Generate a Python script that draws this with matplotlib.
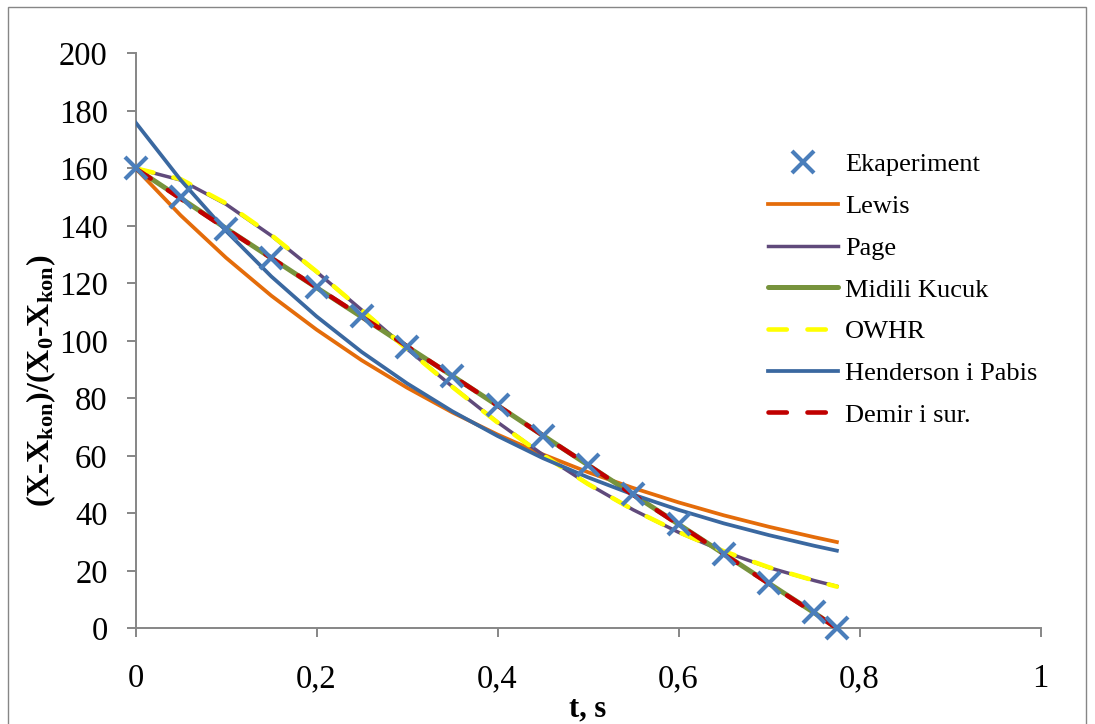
import matplotlib
matplotlib.use("Agg")
import matplotlib.pyplot as plt
from matplotlib.patches import Rectangle

plt.rcParams['font.family'] = ['Liberation Serif', 'DejaVu Serif']
plt.rcParams['mathtext.fontset'] = 'custom'
plt.rcParams['mathtext.rm'] = 'Liberation Serif'
plt.rcParams['mathtext.bf'] = 'Liberation Serif:bold'
plt.rcParams['mathtext.it'] = 'Liberation Serif:italic'

# ---- data ----
t = [0, 0.05, 0.10, 0.15, 0.20, 0.25, 0.30, 0.35, 0.40, 0.45, 0.50,
     0.55, 0.60, 0.65, 0.70, 0.75, 0.775]
eksperiment = [160, 149.9, 138.8, 128.7, 118.6, 108.5, 97.7, 87.7, 77.6,
               66.8, 56.7, 46.6, 36.2, 25.7, 15.7, 5.6, 0]
lewis = [160, 143.6, 128.9, 115.7, 103.9, 93.2, 83.7, 75.1, 67.4, 60.5,
         54.3, 48.8, 43.8, 39.3, 35.3, 31.7, 30.0]
page = [160, 155.9, 147.5, 136.6, 124.0, 110.7, 97.2, 84.1, 71.7, 60.4,
        50.2, 41.2, 33.4, 26.7, 21.1, 16.6, 14.6]
midili = [160, 149.6, 139.1, 128.8, 118.5, 108.3, 98.0, 87.8, 77.5, 67.1,
          56.8, 46.5, 36.2, 25.9, 15.6, 5.4, 0]
owhr = [160, 156.2, 147.8, 136.8, 124.1, 110.7, 97.1, 84.0, 71.6, 60.3,
        50.2, 41.2, 33.5, 26.8, 21.2, 16.6, 14.5]
henderson = [176, 155.9, 138.2, 122.4, 108.5, 96.1, 85.2, 75.5, 66.9, 59.2,
             52.5, 46.5, 41.2, 36.5, 32.4, 28.7, 27.0]
demir = [160, 149.4, 139.0, 128.8, 118.6, 108.4, 98.1, 87.8, 77.5, 67.1,
         56.8, 46.4, 36.1, 25.8, 15.5, 5.3, 0]

labels = ['Ekaperiment', 'Lewis', 'Page', 'Midili Kucuk', 'OWHR',
          'Henderson i Pabis', 'Demir i sur.']
xticks = [0, 0.2, 0.4, 0.6, 0.8, 1.0]
xticklabels = ['0', '0,2', '0,4', '0,6', '0,8', '1']
yticks = list(range(0, 201, 20))

# ---- figure ----
W, H = 1095, 724
fig = plt.figure(figsize=(W/100, H/100), dpi=100)
ax = fig.add_axes([135.5/W, 1-628.3/H, (1040.5-135.5)/W, (628.3-53.3)/H])

c_exp = '#4A7EBB'
c_lewis = '#E46C0A'
c_page = '#604A7B'
c_mid = '#77933C'
c_owhr = '#FFFF00'
c_hen = '#3A68A0'
c_dem = '#C00000'

h_lewis, = ax.plot(t, lewis, color=c_lewis, lw=2.7, label=labels[1], zorder=2)
h_page, = ax.plot(t, page, color=c_page, lw=2.5, label=labels[2], zorder=3)
h_mid, = ax.plot(t, midili, color=c_mid, lw=3.6, label=labels[3], zorder=3,
                 solid_capstyle='round')
h_owhr, = ax.plot(t, owhr, color=c_owhr, lw=3.3, label=labels[4], zorder=4,
                  dashes=(4.0, 4.5), dash_capstyle='round')
h_hen, = ax.plot(t, henderson, color=c_hen, lw=2.7, label=labels[5], zorder=5)
h_dem, = ax.plot(t, demir, color=c_dem, lw=3.3, label=labels[6], zorder=6,
                 dashes=(4.0, 4.5), dash_capstyle='round')
h_exp, = ax.plot(t, eksperiment, linestyle='none', marker='x', ms=16, mew=3.0,
                 color=c_exp, label=labels[0], zorder=7, clip_on=False)

ax.set_xlim(0, 1)
ax.set_ylim(0, 200)
ax.set_xticks(xticks)
ax.set_xticklabels(xticklabels)
ax.set_yticks(yticks)

for s in ['top', 'right']:
    ax.spines[s].set_visible(False)
for s in ['left', 'bottom']:
    ax.spines[s].set_color('#868686')
    ax.spines[s].set_linewidth(1.4)
ax.tick_params(axis='both', direction='out', length=6.5, width=1.4,
               color='#868686', labelsize=23.5)
ax.tick_params(axis='x', pad=19)
ax.tick_params(axis='y', pad=13.5)

ax.set_xlabel('t, s', fontsize=22, fontweight='bold')
ax.xaxis.set_label_coords(0.5, (628.3 - 709) / 575)
ax.xaxis.label.set_verticalalignment('center')
ax.set_ylabel(r'(X-X$_{\mathbf{kon}}$)/(X$_{\mathbf{0}}$-X$_{\mathbf{kon}}$)',
              fontsize=23, fontweight='bold')
ax.yaxis.set_label_coords((41 - 135.5) / 905, (628.3 - 381) / 575)
ax.yaxis.label.set_horizontalalignment('center')
ax.yaxis.label.set_verticalalignment('center')

handles = [h_exp, h_lewis, h_page, h_mid, h_owhr, h_hen, h_dem]
leg = ax.legend(handles, labels, loc='upper left',
                bbox_to_anchor=(768/W, 1-153/H), bbox_transform=fig.transFigure,
                frameon=False, fontsize=19, handlelength=2.65, handletextpad=0.28,
                labelspacing=0.69, borderpad=0.0, borderaxespad=0.0)

# outer chart border
fig.patches.append(Rectangle((8/W, -0.05), (1086-8)/W, 1.05-7/H,
                             transform=fig.transFigure, fill=False,
                             edgecolor='#868686', lw=1.0))

fig.savefig('out.png', dpi=100)
